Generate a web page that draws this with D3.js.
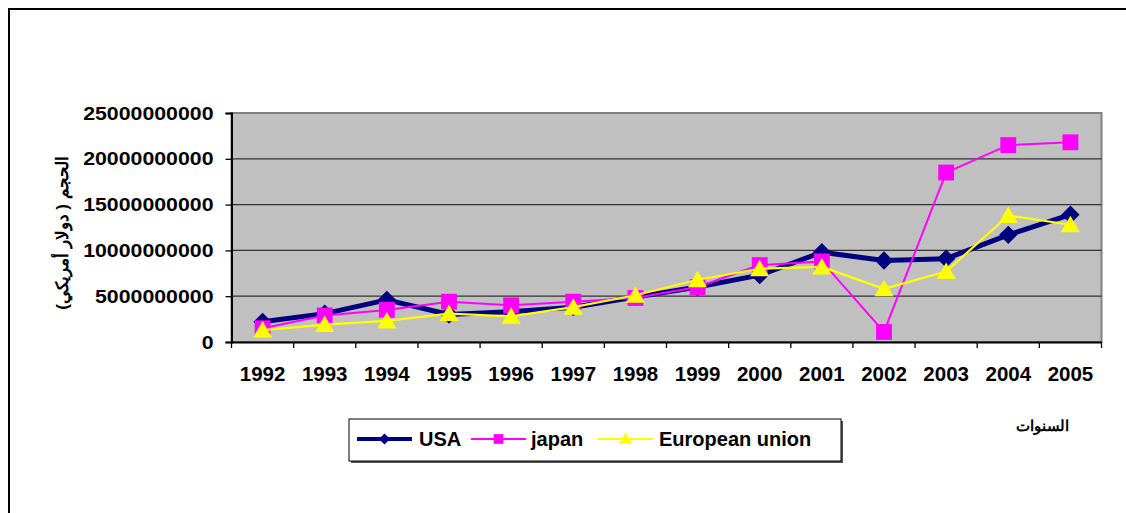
<!DOCTYPE html>
<html>
<head>
<meta charset="utf-8">
<script src="https://cdn.jsdelivr.net/npm/d3@7"></script>
<style>
  body { margin: 0; background: #fff; }
  svg { display: block; font-family: "Liberation Sans", Arial, sans-serif; }
</style>
</head>
<body>
<div id="chart"></div>
<script>
// data
const years = ["1992", "1993", "1994", "1995", "1996", "1997", "1998",
               "1999", "2000", "2001", "2002", "2003", "2004", "2005"];
const usa = [2.2e9, 3.1e9, 4.6e9, 3.0e9, 3.3e9, 3.8e9, 4.9e9,
             6.0e9, 7.3e9, 9.8e9, 8.9e9, 9.1e9, 11.7e9, 13.9e9];
const japan = [1.5e9, 2.9e9, 3.5e9, 4.4e9, 4.0e9, 4.4e9, 4.8e9,
               6.0e9, 8.4e9, 8.8e9, 1.1e9, 18.5e9, 21.5e9, 21.8e9];
const eu = [1.3e9, 1.9e9, 2.3e9, 3.1e9, 2.8e9, 3.8e9, 5.1e9,
            6.8e9, 8.0e9, 8.2e9, 5.8e9, 7.7e9, 13.8e9, 12.8e9];
const yTicks = [0, 5e9, 10e9, 15e9, 20e9, 25e9];
const seriesNames = ["USA", "japan", "European union"];

const W = 1126, H = 513;
const plot = { left: 231.5, right: 1101.5, top: 113, bottom: 342 };

const svg = d3.select("#chart").append("svg")
    .attr("width", W)
    .attr("height", H);

// outer chart border
svg.append("rect")
    .attr("x", 9).attr("y", 9)
    .attr("width", W + 20).attr("height", H + 20)
    .attr("fill", "none")
    .attr("stroke", "#000")
    .attr("stroke-width", 2);

const x = d3.scaleBand().domain(years).range([plot.left, plot.right]).padding(0);
const y = d3.scaleLinear().domain([0, 25e9]).range([plot.bottom, plot.top]);
const cx = d => x(d) + x.bandwidth() / 2;

// plot area
svg.append("rect")
    .attr("x", plot.left).attr("y", plot.top)
    .attr("width", plot.right - plot.left)
    .attr("height", plot.bottom - plot.top)
    .attr("fill", "#c0c0c0")
    .attr("stroke", "#808080")
    .attr("stroke-width", 2);

// gridlines
svg.append("g")
    .selectAll("line")
    .data(yTicks.filter(t => t > 0 && t < 25e9))
    .join("line")
    .attr("x1", plot.left).attr("x2", plot.right)
    .attr("y1", d => y(d)).attr("y2", d => y(d))
    .attr("stroke", "#333")
    .attr("stroke-width", 1.3);

// y axis
const yAxis = svg.append("g")
    .attr("transform", `translate(${plot.left},0)`)
    .call(d3.axisLeft(y).tickValues(yTicks).tickFormat(d3.format("d")).tickSize(6).tickPadding(12));
yAxis.select(".domain").attr("stroke", "#000").attr("stroke-width", 2);
yAxis.selectAll(".tick line").attr("stroke", "#000").attr("stroke-width", 1.3);
yAxis.selectAll("text")
    .attr("fill", "#000")
    .style("font-size", "19px")
    .style("font-weight", "bold")
    .attr("textLength", function () { return this.textContent.length * 11.85; })
    .attr("lengthAdjust", "spacingAndGlyphs");

// x axis
const xAxis = svg.append("g")
    .attr("transform", `translate(0,${plot.bottom})`)
    .call(d3.axisBottom(x).tickSize(0).tickPadding(24));
xAxis.select(".domain").attr("stroke", "#000").attr("stroke-width", 2);
xAxis.selectAll("text")
    .attr("fill", "#000")
    .style("font-size", "20.5px")
    .style("font-weight", "bold");

// x ticks on band boundaries
svg.append("g")
    .selectAll("line")
    .data(years.map(d => x(d)).concat([x.range()[1]]))
    .join("line")
    .attr("x1", d => d).attr("x2", d => d)
    .attr("y1", plot.bottom).attr("y2", plot.bottom + 6)
    .attr("stroke", "#000")
    .attr("stroke-width", 1.3);

// axis titles
svg.append("text")
    .attr("transform", `translate(68,233) rotate(-90)`)
    .attr("text-anchor", "middle")
    .attr("direction", "rtl")
    .style("font-size", "17px")
    .style("font-weight", "bold")
    .text("الحجم ( دولار أمريكي)");

svg.append("text")
    .attr("x", 1042).attr("y", 431)
    .attr("text-anchor", "middle")
    .attr("direction", "rtl")
    .style("font-size", "15px")
    .style("font-weight", "bold")
    .text("السنوات");

// marker shapes
const diamond = d3.symbol().type(d3.symbolDiamond2).size(215);
const square = d3.symbol().type(d3.symbolSquare2).size(320);
const triangle = d3.symbol().type(d3.symbolTriangle2).size(260);

const series = [
    { name: seriesNames[0], values: usa, color: "#000080", width: 5, shape: diamond },
    { name: seriesNames[1], values: japan, color: "#ff00ff", width: 2, shape: square },
    { name: seriesNames[2], values: eu, color: "#ffff00", width: 2.2, shape: triangle }
];

const line = d3.line().x((d, i) => cx(years[i])).y(d => y(d));

series.forEach(s => {
    const g = svg.append("g");
    g.append("path")
        .attr("d", line(s.values))
        .attr("fill", "none")
        .attr("stroke", s.color)
        .attr("stroke-width", s.width)
        .attr("stroke-linejoin", "round");
    g.selectAll("path.m")
        .data(s.values)
        .join("path")
        .attr("class", "m")
        .attr("d", s.shape)
        .attr("transform", (d, i) => `translate(${cx(years[i])},${y(d) + (s.shape === triangle ? 2 : 0)})`)
        .attr("fill", s.color);
});

// legend
const legend = svg.append("g");
legend.append("rect")
    .attr("x", 351).attr("y", 421)
    .attr("width", 492).attr("height", 42)
    .attr("fill", "#555");
legend.append("rect")
    .attr("x", 349).attr("y", 419)
    .attr("width", 492).attr("height", 42)
    .attr("fill", "#fff")
    .attr("stroke", "#000")
    .attr("stroke-width", 1);

const legendItems = [
    { lx: 357, tx: 419 },
    { lx: 471, tx: 531 },
    { lx: 598, tx: 659 }
];
const legendMarks = [
    d3.symbol().type(d3.symbolDiamond2).size(80),
    d3.symbol().type(d3.symbolSquare2).size(120),
    d3.symbol().type(d3.symbolTriangle2).size(120)
];
series.forEach((s, i) => {
    const it = legendItems[i];
    legend.append("line")
        .attr("x1", it.lx).attr("x2", it.lx + 55)
        .attr("y1", 439).attr("y2", 439)
        .attr("stroke", s.color)
        .attr("stroke-width", i === 0 ? 4 : 2);
    legend.append("path")
        .attr("d", legendMarks[i])
        .attr("transform", `translate(${it.lx + 27.5},${439 + (i === 2 ? 1 : 0)})`)
        .attr("fill", s.color);
    legend.append("text")
        .attr("x", it.tx).attr("y", 446)
        .style("font-size", "20px")
        .style("font-weight", "bold")
        .text(s.name);
});
</script>
</body>
</html>
